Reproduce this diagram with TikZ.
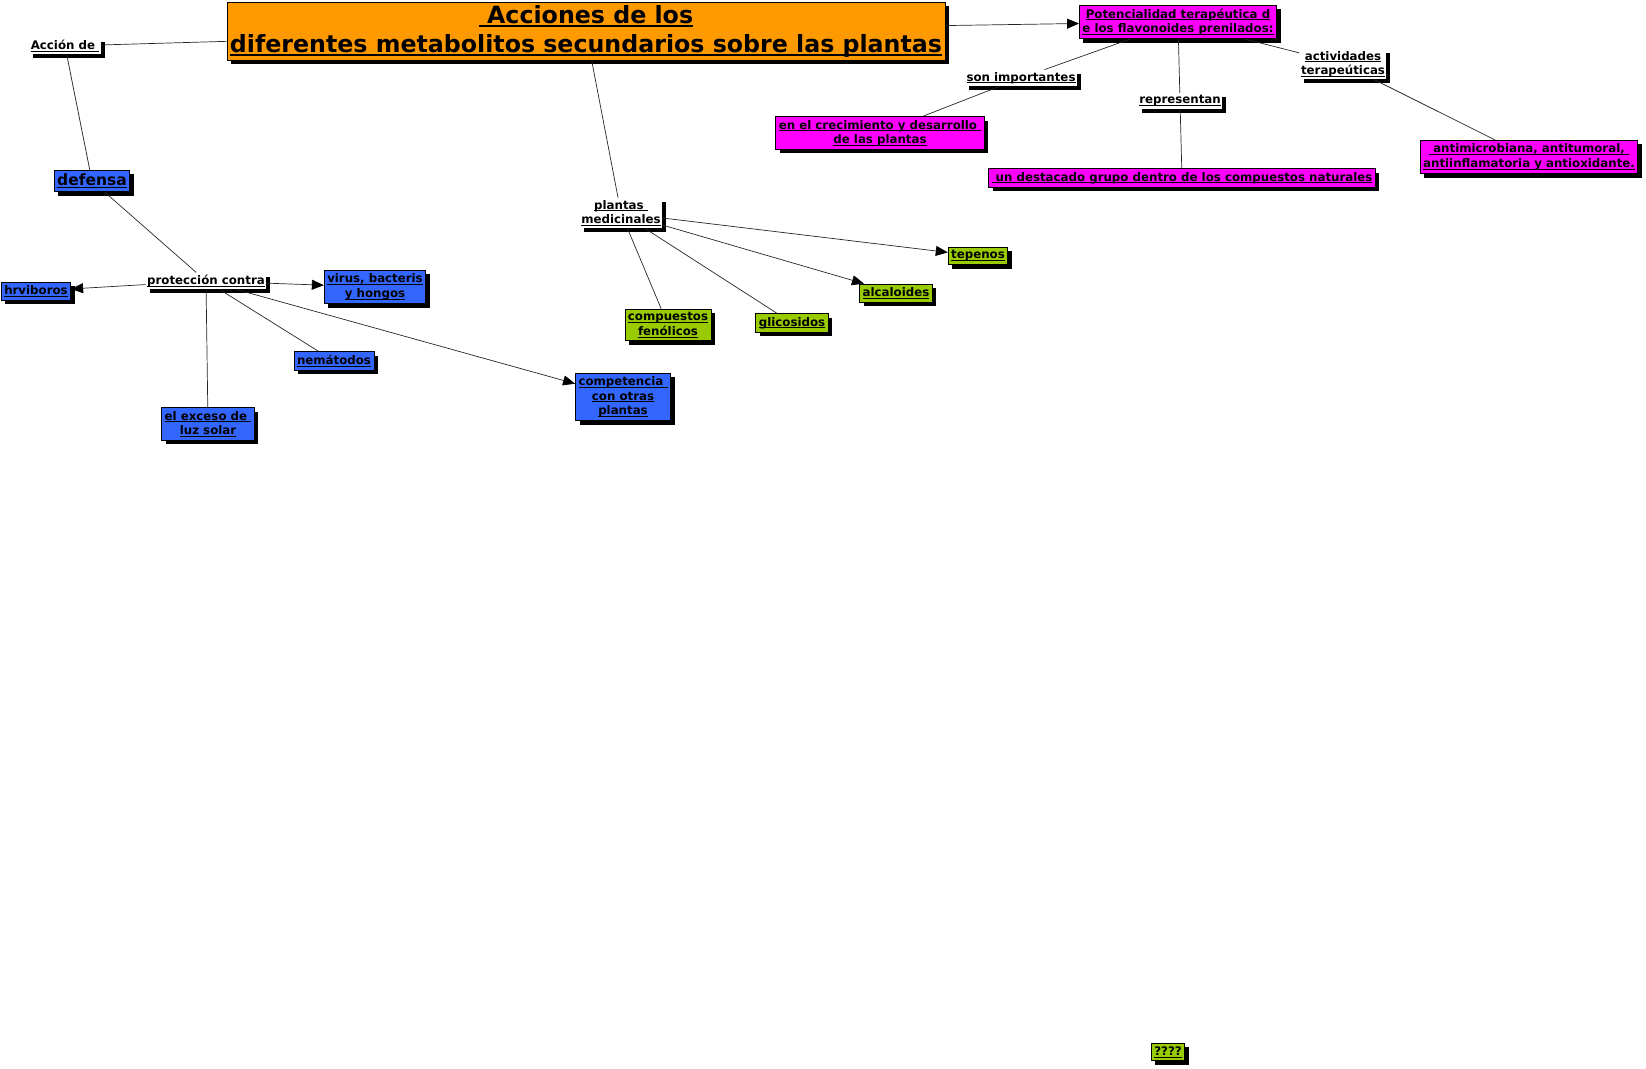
\documentclass[tikz,border=0pt]{standalone}
\usepackage{fontspec}
\setmainfont{DejaVu Sans}
\usetikzlibrary{arrows.meta}
\usetikzlibrary{shadows}

\definecolor{naranja}{RGB}{255,153,0}
\definecolor{azul}{RGB}{51,102,255}
\definecolor{verde}{RGB}{153,204,0}
\definecolor{magenta}{RGB}{255,0,255}

% subrayado pegado a la linea base
\newcommand\ulx[1]{\setbox0\hbox{#1}\rlap{\rule[-0.16em]{\wd0}{0.07em}}\box0}

\tikzset{
  sombra/.style={drop shadow={shadow xshift=4pt, shadow yshift=-4pt, fill=black, opacity=1}},
  ConceptStyle/.style={draw=black, line width=0.8pt, inner xsep=3pt, inner ysep=3.5pt, align=center,
    font=\bfseries\fontsize{11.8}{14.5}\selectfont, sombra},
  LinkStyle/.style={fill=white, inner xsep=1.5pt, inner ysep=2.5pt, align=center,
    font=\bfseries\fontsize{11.8}{14.5}\selectfont, sombra},
  EdgeStyle/.style={draw=black!85, line width=0.7pt},
  ArrowStyle/.style={EdgeStyle, -{Triangle[length=12pt,width=10pt,black]}}
}

\begin{document}
\begin{tikzpicture}[x=1pt, y=-1pt]
   \useasboundingbox (0,0) rectangle (1646,1068);
   % titulo
   \node[ConceptStyle, fill=naranja, inner ysep=3pt, font=\bfseries\fontsize{23.7}{29}\selectfont] (acc) at (586,31)
      {\ulx{ Acciones de los}\\\ulx{diferentes metabolitos secundarios sobre las plantas}};
   % defensa
   \node[LinkStyle] (accde) at (65,46) {\ulx{Acción de }};
   \tikzset{ConceptStyle/.append style={fill=azul}}
   \node[ConceptStyle, font=\bfseries\fontsize{15.5}{18}\selectfont] (def) at (92,181) {\ulx{defensa}};
   \node[LinkStyle] (prot) at (206,281) {\ulx{protección contra}};
   \node[ConceptStyle] (hrv) at (36,291) {\ulx{hrviboros}};
   \node[ConceptStyle] (vir) at (375,287) {\ulx{virus, bacteris}\\\ulx{y hongos}};
   \node[ConceptStyle] (nem) at (334,361) {\ulx{nemátodos}};
   \node[ConceptStyle] (luz) at (208,424) {\ulx{el exceso de }\\\ulx{luz solar}};
   \node[ConceptStyle] (compe) at (623,397) {\ulx{competencia }\\\ulx{con otras}\\\ulx{plantas}};
   % plantas medicinales
   \node[LinkStyle] (med) at (621,213) {\ulx{plantas }\\\ulx{medicinales}};
   \tikzset{ConceptStyle/.append style={fill=verde}}
   \node[ConceptStyle] (fen) at (668,325) {\ulx{compuestos}\\\ulx{fenólicos}};
   \node[ConceptStyle] (gli) at (792,323) {\ulx{glicosidos}};
   \node[ConceptStyle] (alc) at (896,293) {\ulx{alcaloides}};
   \node[ConceptStyle] (tep) at (978,256) {\ulx{tepenos}};
   \node[ConceptStyle] (preg) at (1168,1052) {\ulx{????}};
   % flavonoides
   \tikzset{ConceptStyle/.append style={fill=magenta}}
   \node[ConceptStyle] (pot) at (1178,22) {\ulx{Potencialidad terapéutica d}\\\ulx{e los flavonoides prenilados:}};
   \node[LinkStyle] (son) at (1021,78) {\ulx{son importantes}};
   \node[LinkStyle] (rep) at (1180,101) {\ulx{representan}};
   \node[LinkStyle] (act) at (1343,64) {\ulx{actividades}\\\ulx{terapeúticas}};
   \node[ConceptStyle] (cre) at (880,133) {\ulx{en el crecimiento y desarrollo }\\\ulx{de las plantas}};
   \node[ConceptStyle] (gru) at (1182,178) {\ulx{ un destacado grupo dentro de los compuestos naturales}};
   \node[ConceptStyle] (anti) at (1529,157) {\ulx{ antimicrobiana, antitumoral, }\\\ulx{antiinflamatoria y antioxidante.}};
   % conexiones
   \draw[EdgeStyle] (acc) -- (accde);
   \draw[EdgeStyle] (accde) -- (def);
   \draw[EdgeStyle] (def) -- (prot);
   \draw[ArrowStyle] (prot) -- (hrv);
   \draw[ArrowStyle] (prot) -- (vir);
   \draw[EdgeStyle] (prot) -- (nem);
   \draw[EdgeStyle] (prot) -- (luz);
   \draw[ArrowStyle] (prot) -- (compe);
   \draw[EdgeStyle] (acc) -- (med);
   \draw[ArrowStyle] (med) -- (tep);
   \draw[ArrowStyle] (med) -- (alc);
   \draw[EdgeStyle] (med) -- (gli);
   \draw[EdgeStyle] (med) -- (fen);
   \draw[ArrowStyle] (acc) -- (pot);
   \draw[EdgeStyle] (pot) -- (son);
   \draw[EdgeStyle] (son) -- (cre);
   \draw[EdgeStyle] (pot) -- (rep);
   \draw[EdgeStyle] (rep) -- (gru);
   \draw[EdgeStyle] (pot) -- (act);
   \draw[EdgeStyle] (act) -- (anti);
\end{tikzpicture}
\end{document}
